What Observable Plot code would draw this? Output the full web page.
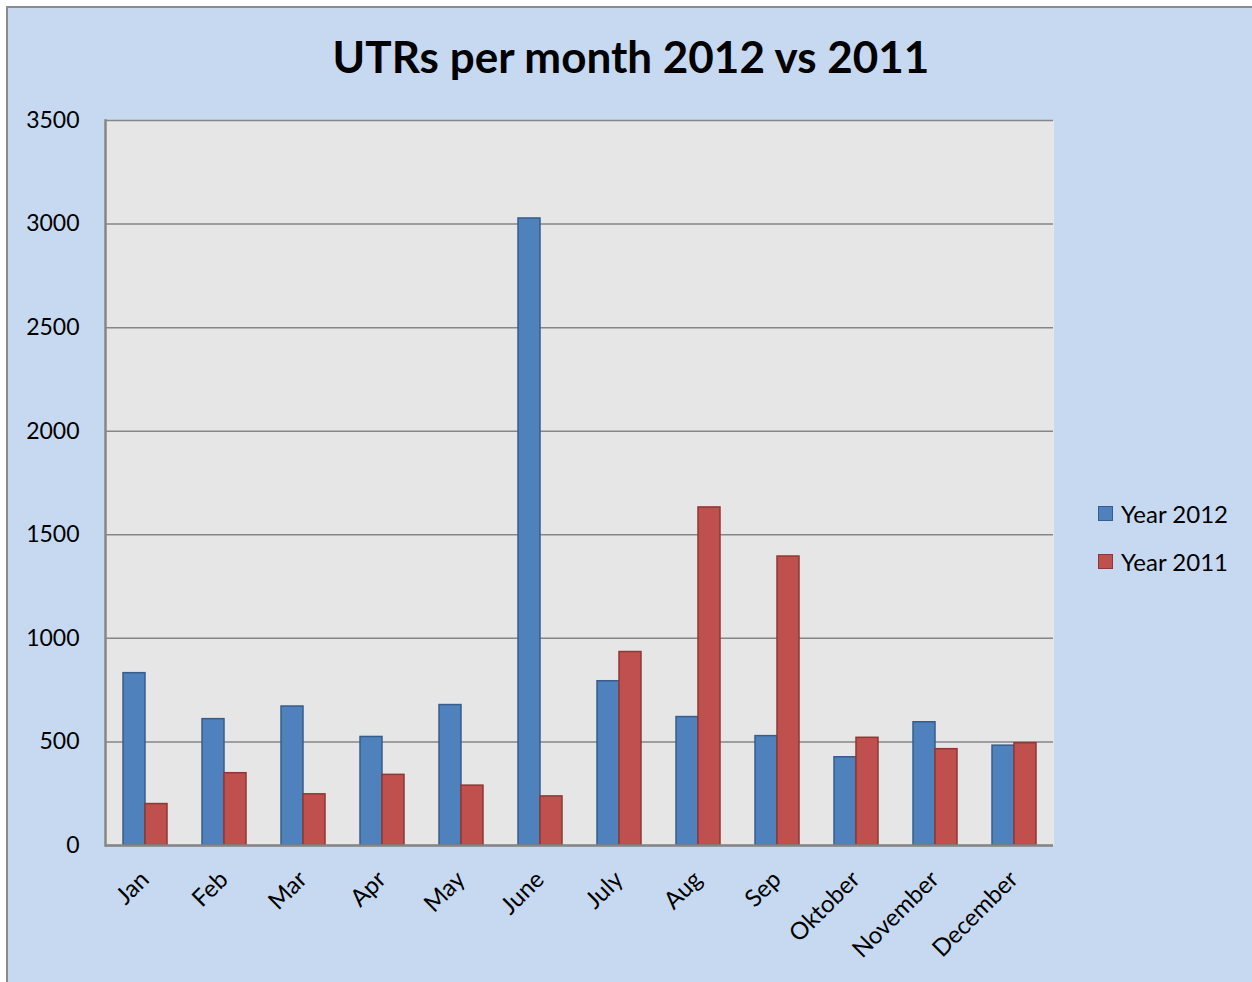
<!DOCTYPE html>
<html>
<head>
<meta charset="utf-8">
<script src="https://cdn.jsdelivr.net/npm/d3@7"></script>
<script src="https://cdn.jsdelivr.net/npm/@observablehq/plot@0.6"></script>
<style>
  html, body { margin: 0; padding: 0; background: #C6D9F1; overflow: hidden; }
  #wrap { position: relative; width: 1252px; height: 982px; font-family: Lato, "Open Sans", sans-serif; }
  #box { position: absolute; left: 6px; top: 6px; width: 3000px; height: 3000px; border-left: 2px solid #8c8c8c; border-top: 2px solid #8c8c8c; background: #C6D9F1; }
  #title { position: absolute; left: 0; width: 1262px; top: 30px; text-align: center; font-size: 44px; font-weight: 700; color: #000; }
  #chart { position: absolute; left: 0; top: 0; }
  #legend { position: absolute; left: 1098px; top: 489px; font-size: 24px; color: #000; }
  .li { display: flex; align-items: center; height: 48px; }
  .sw { width: 13px; height: 13px; margin-right: 8px; border: 1px solid; }
  #topstrip { position: fixed; left: 0; top: 0; width: 100vw; height: 6px; background: #fff; }
  #leftstrip { position: fixed; left: 0; top: 0; width: 6px; height: 100vh; background: #fff; }
</style>
</head>
<body>
<div id="topstrip"></div>
<div id="leftstrip"></div>
<div id="wrap">
  <div id="box"></div>
  <div id="title">UTRs per month 2012 vs 2011</div>
  <div id="chart"></div>
  <div id="legend"></div>
</div>
<script>
const months = ["Jan", "Feb", "Mar", "Apr", "May", "June", "July", "Aug", "Sep", "Oktober", "November", "December"];
const seriesNames = ["Year 2012", "Year 2011"];
const year2012 = [832, 610, 671, 524, 678, 3027, 793, 620, 528, 426, 595, 482];
const year2011 = [200, 349, 247, 341, 289, 237, 934, 1632, 1395, 520, 465, 494];
const yTicks = [0, 500, 1000, 1500, 2000, 2500, 3000, 3500];
const fills = ["#4F81BD", "#C0504D"];
const strokes = ["#385D8A", "#8C3836"];

const data = [];
months.forEach((m, i) => {
  data.push({month: m, series: seriesNames[0], value: year2012[i]});
  data.push({month: m, series: seriesNames[1], value: year2011[i]});
});

const chart = Plot.plot({
  width: 1252,
  height: 982,
  marginLeft: 102,
  marginRight: 196,
  marginTop: 120,
  marginBottom: 137,
  style: {background: "transparent", fontFamily: "Lato, 'Open Sans', sans-serif", color: "#000"},
  fx: {domain: months, padding: 0, label: null},
  x: {domain: seriesNames, paddingInner: 0, paddingOuter: 0.725, axis: null},
  y: {domain: [0, 3500], label: null},
  color: {domain: seriesNames, range: fills},
  marks: [
    Plot.frame({fill: "#E6E6E6", stroke: null, insetLeft: -0.6, insetRight: -0.6}),
    Plot.gridY(yTicks, {stroke: "#868686", strokeOpacity: 1, strokeWidth: 1.5}),
    Plot.barY(data, {fx: "month", x: "series", y: "value", fill: "series",
      stroke: d => strokes[seriesNames.indexOf(d.series)], strokeWidth: 1.5, inset: 0}),
    Plot.ruleY([0], {stroke: "#868686", strokeWidth: 2.5}),
    Plot.frame({anchor: "left", facetAnchor: "left", stroke: "#868686", strokeWidth: 2.5}),
    Plot.axisY(yTicks, {tickSize: 0, tickPadding: 26, fontSize: 23, label: null, tickFormat: d => String(d)}),
    Plot.axisFx({anchor: "bottom", tickSize: 0, tickPadding: 30, tickRotate: -45, fontSize: 24, label: null})
  ]
});
document.getElementById("chart").appendChild(chart);

const legend = document.getElementById("legend");
seriesNames.forEach((s, i) => {
  const row = document.createElement("div");
  row.className = "li";
  const sw = document.createElement("span");
  sw.className = "sw";
  sw.style.background = fills[i];
  sw.style.borderColor = strokes[i];
  const t = document.createElement("span");
  t.textContent = s;
  row.appendChild(sw);
  row.appendChild(t);
  legend.appendChild(row);
});
</script>
</body>
</html>
